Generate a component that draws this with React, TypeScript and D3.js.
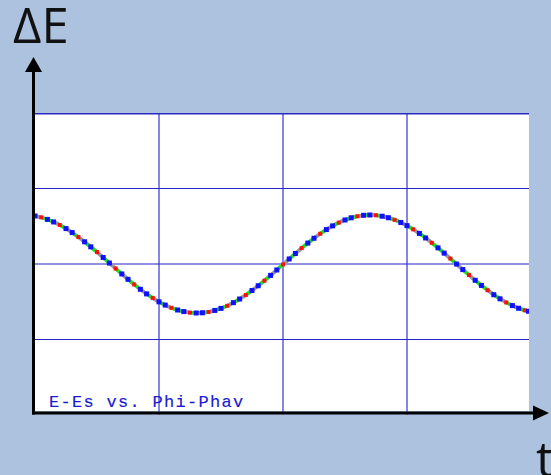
import React from "react";
import * as d3 from "d3";

// Phase deviation samples (grid units along t) and the energy deviation read at each
const tValues: number[] = [
  0, 0.05, 0.1, 0.15, 0.2, 0.25, 0.3, 0.35, 0.4, 0.45,
  0.5, 0.55, 0.6, 0.65, 0.7, 0.75, 0.8, 0.85, 0.9, 0.95,
  1.0, 1.05, 1.1, 1.15, 1.2, 1.25, 1.3, 1.35, 1.4, 1.45,
  1.5, 1.55, 1.6, 1.65, 1.7, 1.75, 1.8, 1.85, 1.9, 1.95,
  2.0, 2.05, 2.1, 2.15, 2.2, 2.25, 2.3, 2.35, 2.4, 2.45,
  2.5, 2.55, 2.6, 2.65, 2.7, 2.75, 2.8, 2.85, 2.9, 2.95,
  3.0, 3.05, 3.1, 3.15, 3.2, 3.25, 3.3, 3.35, 3.4, 3.45,
  3.5, 3.55, 3.6, 3.65, 3.7, 3.75, 3.8, 3.85, 3.9, 3.95, 3.98,
];
const dEValues: number[] = [
  0.636, 0.618, 0.591, 0.557, 0.517, 0.469, 0.416, 0.357, 0.294, 0.227,
  0.158, 0.086, 0.013, -0.06, -0.132, -0.203, -0.271, -0.335, -0.396, -0.451,
  -0.501, -0.544, -0.58, -0.609, -0.63, -0.644, -0.649, -0.646, -0.635, -0.615,
  -0.588, -0.554, -0.512, -0.464, -0.411, -0.351, -0.288, -0.221, -0.151, -0.079,
  -0.006, 0.067, 0.139, 0.21, 0.277, 0.341, 0.401, 0.456, 0.505, 0.548,
  0.583, 0.612, 0.632, 0.645, 0.649, 0.645, 0.633, 0.613, 0.585, 0.55,
  0.508, 0.459, 0.405, 0.345, 0.281, 0.214, 0.144, 0.072, -0.001, -0.074,
  -0.146, -0.216, -0.284, -0.347, -0.407, -0.461, -0.509, -0.551, -0.586, -0.614, -0.626,
];

const xTicks: number[] = [0, 1, 2, 3, 4];
const yTicks: number[] = [-2, -1, 0, 1, 2];
const plotTitle = "E-Es vs. Phi-Phav";
const yAxisName = "ΔE";
const xAxisName = "t";

const segmentColors = ["#9a9a9a", "#1ee61e", "#1ee61e", "#9a9a9a", "#1ee61e", "#9a9a9a", "#1ee61e"];

const W = 551;
const H = 475;
const left = 35;
const right = 529;
const top = 113;
const bottom = 415;

export default function App() {
  const x = d3.scaleLinear().domain([0, 4]).range([left, left + 496]);
  const y = d3.scaleLinear().domain([-2, 2]).range([bottom, top]);

  const pts = tValues.map((t, i) => ({ px: x(t), py: y(dEValues[i]) }));
  const line = d3
    .line<{ px: number; py: number }>()
    .x((d) => d.px)
    .y((d) => d.py)
    .curve(d3.curveMonotoneX);

  return (
    <svg
      width={W}
      height={H}
      style={{ position: "absolute", left: 0, top: 0, display: "block" }}
    >
      <defs>
        <clipPath id="plotClip">
          <rect x={left} y={top} width={right - left} height={bottom - top} />
        </clipPath>
      </defs>
      <rect x={0} y={0} width={W} height={H} fill="#acc2df" />
      <rect x={left} y={top} width={right - left} height={411 - top} fill="#ffffff" />

      <g clipPath="url(#plotClip)">
        {xTicks.slice(1, -1).map((t) => (
          <line
            key={"vx" + t}
            x1={x(t)}
            x2={x(t)}
            y1={top}
            y2={bottom}
            stroke="#8585e8"
            strokeWidth={2}
          />
        ))}
        {yTicks.slice(1, -1).map((v) => (
          <line
            key={"hy" + v}
            x1={left}
            x2={right}
            y1={y(v)}
            y2={y(v)}
            stroke="#2424c8"
            strokeWidth={1.2}
          />
        ))}
        <line x1={left} x2={right} y1={top + 0.5} y2={top + 0.5} stroke="#2a2ac0" strokeWidth={2} />

        {/* curve */}
        <path d={line(pts) ?? ""} fill="none" stroke="#9a9a9a" strokeWidth={3.5} />
        {pts.slice(1).map((p, i) => (
          <line
            key={"s" + i}
            x1={pts[i].px}
            y1={pts[i].py}
            x2={p.px}
            y2={p.py}
            stroke={segmentColors[i % segmentColors.length]}
            strokeWidth={3.5}
            strokeLinecap="butt"
          />
        ))}
        {pts.map((p, i) =>
          i % 3 === 1 ? (
            <rect key={"r" + i} x={p.px - 2} y={p.py - 2} width={4} height={4} fill="#ff1010" />
          ) : null
        )}
        {pts.map((p, i) =>
          i % 3 !== 1 ? (
            <rect key={"b" + i} x={p.px - 2.5} y={p.py - 2.5} width={5} height={5} fill="#1010ff" />
          ) : null
        )}

        <text
          x={49}
          y={407}
          fontFamily="'Liberation Mono', 'DejaVu Sans Mono', monospace"
          fontSize={17}
          letterSpacing={1.3}
          fill="#1a1ad0"
          stroke="#1a1ad0"
          strokeWidth={0.15}
        >
          {plotTitle}
        </text>
      </g>

      {/* axes with arrowheads */}
      <line x1={33.5} x2={33.5} y1={414.5} y2={70} stroke="#000" strokeWidth={3} />
      <path d="M25,72 L33.5,57 L42,72 Z" fill="#000" />
      <line x1={32} x2={536} y1={413} y2={413} stroke="#000" strokeWidth={3} />
      <path d="M533,405.5 L549,413 L533,420.5 Z" fill="#000" />

      <text x={13} y={43} fontFamily="'Open Sans', sans-serif" fontSize={49} fill="#111">
        {yAxisName}
      </text>
      <text x={536} y={477} fontFamily="'Open Sans', sans-serif" fontSize={50} fill="#111">
        {xAxisName}
      </text>
    </svg>
  );
}
